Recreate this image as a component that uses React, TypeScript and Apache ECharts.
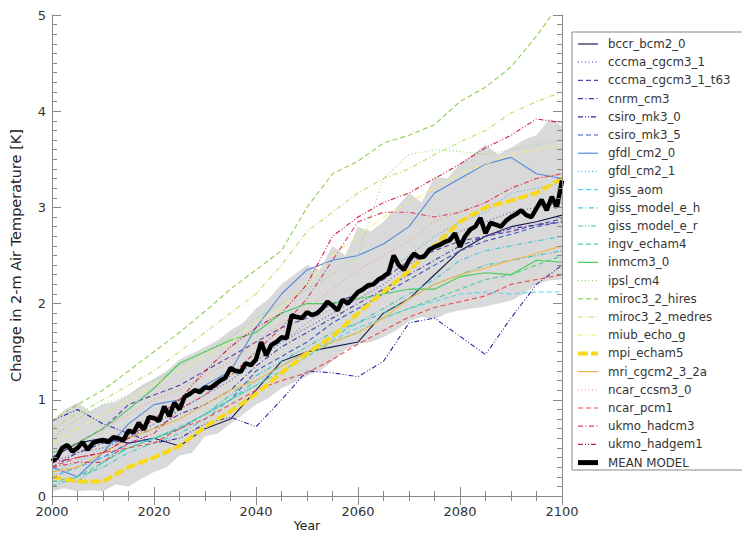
import { useEffect, useRef } from "react";
import * as echarts from "echarts";

const years5 = [2000, 2005, 2010, 2015, 2020, 2025, 2030, 2035, 2040, 2045, 2050, 2055, 2060, 2065, 2070, 2075, 2080, 2085, 2090, 2095, 2100];

const bccr_bcm2_0 = [0.40, 0.55, 0.60, 0.55, 0.60, 0.52, 0.70, 0.80, 1.10, 1.40, 1.50, 1.55, 1.60, 1.90, 2.05, 2.30, 2.55, 2.70, 2.80, 2.85, 2.92];
const cccma_cgcm3_1 = [0.35, 0.45, 0.50, 0.60, 0.75, 0.90, 1.05, 1.20, 1.40, 1.60, 1.75, 1.90, 2.05, 2.20, 2.40, 2.60, 2.75, 2.85, 2.95, 3.00, 3.05];
const cccma_cgcm3_1_t63 = [0.40, 0.55, 0.70, 0.95, 1.05, 1.15, 1.30, 1.45, 1.60, 1.75, 1.85, 2.00, 2.10, 2.25, 2.45, 2.55, 2.65, 2.70, 2.75, 2.82, 2.88];
const cnrm_cm3 = [0.30, 0.45, 0.55, 0.60, 0.70, 0.85, 0.95, 1.10, 1.35, 1.55, 1.70, 1.85, 2.00, 2.15, 2.30, 2.45, 2.60, 2.70, 2.78, 2.82, 2.85];
const csiro_mk3_0 = [0.78, 0.90, 0.75, 0.65, 0.55, 0.60, 0.75, 0.82, 0.72, 1.00, 1.30, 1.28, 1.24, 1.40, 1.80, 1.85, 1.66, 1.47, 1.85, 2.20, 2.40];
const csiro_mk3_5 = [0.20, 0.30, 0.40, 0.55, 0.60, 0.70, 0.85, 1.00, 1.30, 1.45, 1.60, 1.80, 1.95, 2.10, 2.25, 2.40, 2.55, 2.65, 2.72, 2.80, 2.85];
const gfdl_cm2_0 = [0.30, 0.20, 0.45, 0.75, 0.95, 1.00, 1.15, 1.30, 1.75, 2.10, 2.35, 2.45, 2.50, 2.62, 2.80, 3.15, 3.30, 3.45, 3.52, 3.35, 3.30];
const gfdl_cm2_1 = [0.25, 0.35, 0.50, 0.60, 0.75, 0.90, 1.05, 1.20, 1.40, 1.60, 1.80, 1.95, 2.10, 2.30, 2.50, 2.70, 2.85, 2.95, 3.15, 3.20, 3.25];
const giss_aom = [0.20, 0.30, 0.40, 0.50, 0.60, 0.72, 0.85, 1.00, 1.15, 1.35, 1.50, 1.62, 1.75, 1.85, 1.95, 2.02, 2.10, 2.12, 2.10, 2.12, 2.12];
const giss_model_e_h = [0.10, 0.20, 0.30, 0.45, 0.55, 0.65, 0.80, 1.00, 1.20, 1.35, 1.50, 1.65, 1.80, 1.95, 2.10, 2.25, 2.45, 2.55, 2.60, 2.65, 2.70];
const giss_model_e_r = [0.15, 0.15, 0.35, 0.50, 0.60, 0.70, 0.85, 1.05, 1.25, 1.40, 1.55, 1.70, 1.80, 1.90, 2.05, 2.20, 2.30, 2.40, 2.45, 2.50, 2.55];
const ingv_echam4 = [0.15, 0.20, 0.35, 0.50, 0.60, 0.70, 0.85, 1.00, 1.15, 1.30, 1.45, 1.60, 1.70, 1.85, 1.95, 2.05, 2.15, 2.25, 2.30, 2.40, 2.50];
const inmcm3_0 = [0.45, 0.55, 0.70, 0.90, 1.12, 1.38, 1.50, 1.62, 1.70, 1.90, 2.00, 2.00, 2.05, 2.10, 2.15, 2.15, 2.28, 2.32, 2.30, 2.45, 2.43];
const ipsl_cm4 = [0.60, 0.80, 0.95, 1.05, 1.20, 1.35, 1.50, 1.65, 1.85, 2.00, 2.15, 2.30, 2.50, 3.30, 3.55, 3.60, 3.58, 3.55, 3.60, 3.65, 3.70];
const miroc3_2_hires = [0.78, 0.95, 1.10, 1.30, 1.50, 1.70, 1.92, 2.15, 2.35, 2.55, 3.00, 3.35, 3.48, 3.67, 3.75, 3.86, 4.10, 4.25, 4.46, 4.78, 5.15];
const miroc3_2_medres = [0.70, 0.85, 1.00, 1.15, 1.30, 1.50, 1.70, 1.90, 2.10, 2.40, 2.75, 2.95, 3.15, 3.30, 3.40, 3.55, 3.68, 3.80, 3.98, 4.10, 4.20];
const miub_echo_g = [0.55, 0.70, 0.85, 1.00, 1.15, 1.30, 1.45, 1.60, 1.80, 1.95, 2.20, 2.50, 2.70, 2.90, 3.05, 3.20, 3.35, 3.45, 3.55, 3.60, 3.65];
const mpi_echam5 = [0.20, 0.15, 0.15, 0.30, 0.40, 0.52, 0.72, 0.88, 1.06, 1.28, 1.48, 1.66, 1.90, 2.12, 2.34, 2.60, 2.85, 3.00, 3.07, 3.15, 3.30];
const mri_cgcm2_3_2a = [0.25, 0.30, 0.45, 0.60, 0.70, 0.80, 0.95, 1.10, 1.20, 1.35, 1.50, 1.60, 1.70, 1.85, 2.05, 2.20, 2.30, 2.37, 2.45, 2.52, 2.60];
const ncar_ccsm3_0 = [0.45, 0.55, 0.70, 0.85, 1.00, 1.10, 1.25, 1.40, 1.60, 1.80, 1.95, 2.15, 2.35, 2.50, 2.65, 2.85, 2.95, 3.05, 3.20, 3.30, 3.35];
const ncar_pcm1 = [0.30, 0.40, 0.45, 0.50, 0.55, 0.70, 0.80, 0.95, 1.10, 1.20, 1.28, 1.42, 1.58, 1.72, 1.86, 1.96, 2.02, 2.08, 2.20, 2.25, 2.30];
const ukmo_hadcm3 = [0.30, 0.35, 0.35, 0.55, 0.65, 0.90, 1.05, 1.25, 1.50, 1.75, 2.05, 2.45, 2.85, 2.95, 2.95, 2.90, 2.95, 3.05, 3.20, 3.30, 3.35];
const ukmo_hadgem1 = [0.35, 0.40, 0.45, 0.60, 0.80, 1.00, 1.30, 1.55, 1.75, 1.90, 2.20, 2.70, 2.90, 3.05, 3.15, 3.30, 3.45, 3.62, 3.75, 3.92, 3.88];

const meanYears = Array.from({ length: 101 }, (_, i) => 2000 + i);
const meanModel = [
  0.36, 0.40, 0.50, 0.53, 0.46, 0.50, 0.56, 0.48, 0.55, 0.57,
  0.58, 0.56, 0.61, 0.60, 0.58, 0.68, 0.66, 0.76, 0.69, 0.82,
  0.81, 0.78, 0.93, 0.83, 0.97, 0.90, 1.03, 1.06, 1.10, 1.08,
  1.13, 1.12, 1.16, 1.20, 1.23, 1.33, 1.30, 1.29, 1.38, 1.36,
  1.42, 1.60, 1.46, 1.57, 1.60, 1.65, 1.64, 1.88, 1.86, 1.85,
  1.91, 1.88, 1.90, 1.95, 2.02, 1.98, 1.93, 2.04, 2.00, 2.06,
  2.12, 2.15, 2.19, 2.20, 2.25, 2.28, 2.32, 2.50, 2.40, 2.35,
  2.45, 2.52, 2.48, 2.49, 2.56, 2.59, 2.61, 2.64, 2.66, 2.73,
  2.59, 2.70, 2.77, 2.80, 2.89, 2.73, 2.84, 2.82, 2.80, 2.86,
  2.90, 2.93, 2.97, 2.92, 2.90, 2.99, 3.08, 2.97, 3.11, 3.00,
  3.28,
];

const bandYears = [2000, 2002.5, 2005, 2007.5, 2010, 2012.5, 2015, 2017.5, 2020, 2022.5, 2025, 2027.5, 2030, 2032.5, 2035, 2037.5, 2040, 2042.5, 2045, 2047.5, 2050, 2052.5, 2055, 2057.5, 2060, 2062.5, 2065, 2067.5, 2070, 2072.5, 2075, 2077.5, 2080, 2082.5, 2085, 2087.5, 2090, 2092.5, 2095, 2097.5, 2100];
const bandHigh = [0.78, 0.90, 0.97, 0.88, 0.95, 0.98, 1.05, 1.15, 1.22, 1.30, 1.42, 1.48, 1.55, 1.62, 1.72, 1.80, 1.95, 2.05, 2.20, 2.30, 2.40, 2.35, 2.60, 2.50, 2.80, 2.75, 2.85, 3.00, 3.15, 3.05, 3.32, 3.30, 3.45, 3.55, 3.65, 3.55, 3.62, 3.70, 3.75, 3.92, 3.85];
const bandLow = [0.05, 0.08, 0.05, 0.06, 0.05, 0.12, 0.10, 0.18, 0.25, 0.30, 0.42, 0.45, 0.62, 0.65, 0.75, 0.85, 0.95, 1.02, 1.12, 1.18, 1.25, 1.30, 1.40, 1.52, 1.58, 1.60, 1.65, 1.72, 1.82, 1.86, 1.84, 1.90, 1.93, 1.95, 1.97, 2.00, 2.03, 2.10, 2.20, 2.24, 2.25];

const DOT = [1, 2.5];
const DASH = [5, 3];
const DASHDOT = [5, 2.5, 1, 2.5];
const DASHDOTDOT = [5, 2, 1, 2, 1, 2];

const models: { name: string; values: number[]; color: string; dash: any; width?: number }[] = [
  { name: "bccr_bcm2_0", values: bccr_bcm2_0, color: "#1c1c50", dash: null },
  { name: "cccma_cgcm3_1", values: cccma_cgcm3_1, color: "#7050b8", dash: DOT },
  { name: "cccma_cgcm3_1_t63", values: cccma_cgcm3_1_t63, color: "#6040a8", dash: DASH },
  { name: "cnrm_cm3", values: cnrm_cm3, color: "#4038a8", dash: DASHDOT },
  { name: "csiro_mk3_0", values: csiro_mk3_0, color: "#2a2aa0", dash: DASHDOTDOT },
  { name: "csiro_mk3_5", values: csiro_mk3_5, color: "#3a5ac4", dash: DASH },
  { name: "gfdl_cm2_0", values: gfdl_cm2_0, color: "#5088dc", dash: null },
  { name: "gfdl_cm2_1", values: gfdl_cm2_1, color: "#50a8e0", dash: DOT },
  { name: "giss_aom", values: giss_aom, color: "#58d4f0", dash: DASH },
  { name: "giss_model_e_h", values: giss_model_e_h, color: "#40c8d4", dash: DASHDOT },
  { name: "giss_model_e_r", values: giss_model_e_r, color: "#38c0b0", dash: DASHDOTDOT },
  { name: "ingv_echam4", values: ingv_echam4, color: "#50d090", dash: DASH },
  { name: "inmcm3_0", values: inmcm3_0, color: "#48cc58", dash: null },
  { name: "ipsl_cm4", values: ipsl_cm4, color: "#8cd878", dash: DOT },
  { name: "miroc3_2_hires", values: miroc3_2_hires, color: "#8cd050", dash: DASH },
  { name: "miroc3_2_medres", values: miroc3_2_medres, color: "#bce068", dash: DASHDOT },
  { name: "miub_echo_g", values: miub_echo_g, color: "#eef07c", dash: DASHDOTDOT },
  { name: "mpi_echam5", values: mpi_echam5, color: "#f8d818", dash: [10, 3], width: 4 },
  { name: "mri_cgcm2_3_2a", values: mri_cgcm2_3_2a, color: "#f0b848", dash: null },
  { name: "ncar_ccsm3_0", values: ncar_ccsm3_0, color: "#f0a080", dash: DOT },
  { name: "ncar_pcm1", values: ncar_pcm1, color: "#ec4c4c", dash: DASH },
  { name: "ukmo_hadcm3", values: ukmo_hadcm3, color: "#e03c60", dash: DASHDOT },
  { name: "ukmo_hadgem1", values: ukmo_hadgem1, color: "#cc2048", dash: DASHDOTDOT },
];

const FONT = "DejaVu Sans";

export default function App() {
  const ref = useRef<HTMLDivElement>(null);
  useEffect(() => {
    if (!ref.current) return;
    const chart = echarts.init(ref.current, undefined, { renderer: "svg" });

    const series: any[] = [];
    series.push({
      name: "band",
      type: "custom",
      silent: true,
      z: 1,
      data: bandYears.map((y, i) => [y, bandLow[i], bandHigh[i]]),
      encode: { x: 0, y: [1, 2] },
      renderItem: (params: any, api: any) => {
        if (params.dataIndex !== 0) return null;
        const upper = bandYears.map((y, i) => api.coord([y, bandHigh[i]]));
        const lower = bandYears.map((y, i) => api.coord([y, bandLow[i]])).reverse();
        return {
          type: "polygon",
          shape: { points: [...upper, ...lower] },
          style: { fill: "#d9d9d9", stroke: "none" },
        };
      },
    });
    models.forEach((m) => {
      series.push({
        name: m.name,
        type: "line",
        data: years5.map((y, i) => [y, m.values[i]]),
        symbol: "none",
        clip: true,
        lineStyle: { color: m.color, width: m.width ?? 1.1, type: m.dash ?? "solid" },
        itemStyle: { color: m.color },
        z: m.width ? 4 : 3,
      });
    });
    series.push({
      name: "MEAN MODEL",
      type: "line",
      data: meanYears.map((y, i) => [y, meanModel[i]]),
      symbol: "none",
      lineStyle: { color: "#000", width: 4.5, type: "solid" },
      itemStyle: { color: "#000" },
      z: 5,
    });

    // legend drawn as graphic elements (line samples keep their dash patterns)
    const legendItems = [
      ...models.map((m) => ({ name: m.name, color: m.color, dash: m.dash, width: m.width ?? 1.2 })),
      { name: "MEAN MODEL", color: "#000", dash: null, width: 5 },
    ];
    const legendGraphics: any[] = [];
    legendItems.forEach((it, i) => {
      const y = 44 + i * 18.2;
      legendGraphics.push({
        type: "line",
        shape: { x1: 578, y1: y, x2: 598, y2: y },
        style: { stroke: it.color, lineWidth: it.width, lineDash: it.dash || null },
        silent: true,
      });
      legendGraphics.push({
        type: "text",
        x: 608,
        y,
        style: { text: it.name, fill: "#333", fontSize: 11.8, fontFamily: FONT, verticalAlign: "middle", align: "left" },
        silent: true,
      });
    });

    const axisLine = { show: true, lineStyle: { color: "#8a8a8a", width: 1 } };
    const tick = { show: true, inside: true, length: 9, lineStyle: { color: "#8a8a8a" } };
    const label = { color: "#333", fontSize: 13, fontFamily: FONT };

    chart.setOption({
      animation: false,
      backgroundColor: "#fff",
      grid: { left: 52, right: 180, top: 15, bottom: 37, containLabel: false, outerBoundsMode: "none" },
      xAxis: [
        {
          type: "value",
          min: 2000,
          max: 2100,
          interval: 20,
          position: "bottom",
          axisLine,
          axisTick: tick,
          minorTick: { show: true, splitNumber: 4, length: 5, lineStyle: { color: "#8a8a8a" } },
          splitLine: { show: false },
          axisLabel: { ...label, margin: 9, formatter: (v: number) => String(v) },
          name: "Year",
          nameLocation: "middle",
          nameGap: 23,
          nameMoveOverlap: false,
          nameTextStyle: { color: "#222", fontSize: 12.5, fontFamily: FONT, verticalAlign: "top", lineHeight: 13 },
          z: 10,
        },
        {
          type: "value",
          min: 2000,
          max: 2100,
          interval: 20,
          position: "top",
          axisLine,
          axisTick: tick,
          minorTick: { show: true, splitNumber: 4, length: 5, lineStyle: { color: "#8a8a8a" } },
          splitLine: { show: false },
          axisLabel: { show: false },
          z: 10,
        },
      ],
      yAxis: [
        {
          type: "value",
          min: 0,
          max: 5,
          interval: 1,
          position: "left",
          axisLine,
          axisTick: tick,
          minorTick: { show: true, splitNumber: 10, length: 5, lineStyle: { color: "#8a8a8a" } },
          splitLine: { show: false },
          axisLabel: { ...label, margin: 6 },
          name: "Change in 2-m Air Temperature [K]",
          nameLocation: "middle",
          nameGap: 29,
          nameTextStyle: { color: "#222", fontSize: 14.5, fontFamily: FONT },
          z: 10,
        },
        {
          type: "value",
          min: 0,
          max: 5,
          interval: 1,
          position: "right",
          axisLine,
          axisTick: tick,
          minorTick: { show: true, splitNumber: 10, length: 5, lineStyle: { color: "#8a8a8a" } },
          splitLine: { show: false },
          axisLabel: { show: false },
          z: 10,
        },
      ],
      graphic: [
        {
          type: "rect",
          shape: { x: 572, y: 32, width: 200, height: 438 },
          style: { fill: "none", stroke: "#888", lineWidth: 1 },
          silent: true,
        },
        ...legendGraphics,
      ],
      series,
    });
    return () => chart.dispose();
  }, []);
  return <div ref={ref} style={{ position: "fixed", left: 0, top: 0, width: 742, height: 533 }} />;
}
